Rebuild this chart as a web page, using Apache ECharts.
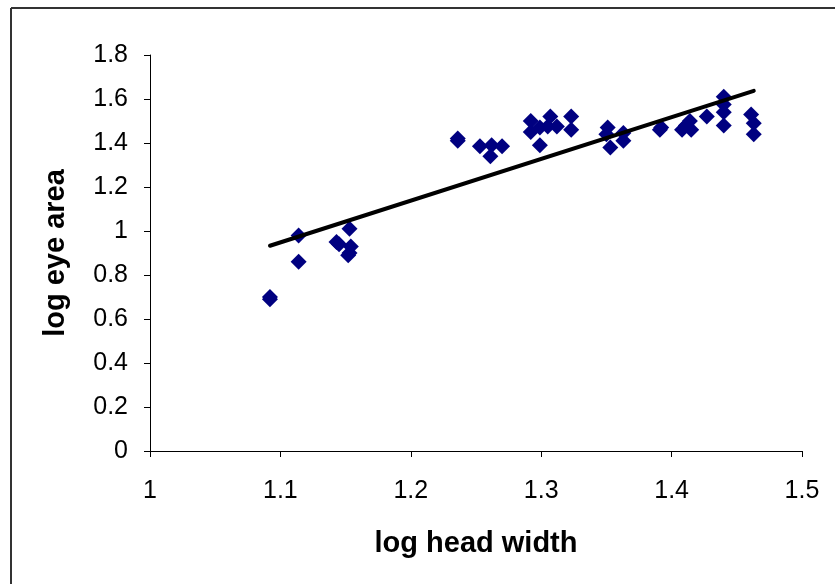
<!DOCTYPE html>
<html>
<head>
<meta charset="utf-8">
<script src="https://cdn.jsdelivr.net/npm/echarts@6/dist/echarts.min.js"></script>
<style>
  html, body { margin: 0; padding: 0; background: #fff; }
  #chart { width: 835px; height: 584px; }
</style>
</head>
<body>
<div id="chart"></div>
<script>
// log head width (x) / log eye area (y)
const headWidth = [1.092, 1.092, 1.114, 1.114, 1.143, 1.145, 1.153, 1.154, 1.153, 1.152,
  1.236, 1.236, 1.253, 1.262, 1.270, 1.261, 1.292, 1.292, 1.299, 1.307, 1.312, 1.323, 1.323, 1.299, 1.305,
  1.351, 1.350, 1.353, 1.363, 1.363, 1.391, 1.392, 1.408, 1.414, 1.415, 1.411, 1.427,
  1.440, 1.440, 1.440, 1.440, 1.461, 1.463, 1.463];
const eyeArea = [0.70, 0.69, 0.98, 0.86, 0.95, 0.94, 1.01, 0.93, 0.90, 0.89,
  1.42, 1.41, 1.385, 1.39, 1.385, 1.34, 1.50, 1.45, 1.47, 1.52, 1.475, 1.52, 1.46, 1.39, 1.475,
  1.47, 1.44, 1.38, 1.445, 1.41, 1.46, 1.47, 1.46, 1.50, 1.46, 1.48, 1.52,
  1.61, 1.575, 1.54, 1.48, 1.53, 1.49, 1.44];

// trend line end points
const trendX = [1.092, 1.463];
const trendY = [0.933, 1.637];

const font = 'Liberation Sans, Arial, sans-serif';

const chart = echarts.init(document.getElementById('chart'));

chart.setOption({
  animation: false,
  backgroundColor: '#fff',
  grid: { left: 150, right: 33, top: 55, bottom: 133 },
  graphic: [
    { type: 'line', shape: { x1: 11, y1: 8, x2: 835, y2: 8 }, style: { stroke: '#333', lineWidth: 2 } },
    { type: 'line', shape: { x1: 11, y1: 8, x2: 11, y2: 584 }, style: { stroke: '#333', lineWidth: 2 } }
  ],
  xAxis: {
    type: 'value',
    min: 1, max: 1.5, interval: 0.1,
    name: 'log head width',
    nameLocation: 'middle',
    nameGap: 78,
    nameTextStyle: { fontFamily: font, fontSize: 29, fontWeight: 'bold', color: '#000' },
    axisLine: { lineStyle: { color: '#000', width: 1 } },
    axisTick: { show: true, length: 6, inside: false, lineStyle: { color: '#000' } },
    axisLabel: { fontFamily: font, fontSize: 25, color: '#000', margin: 28 },
    splitLine: { show: false }
  },
  yAxis: {
    type: 'value',
    min: 0, max: 1.8, interval: 0.2,
    name: 'log eye area',
    nameLocation: 'middle',
    nameGap: 80,
    nameTextStyle: { fontFamily: font, fontSize: 29, fontWeight: 'bold', color: '#000' },
    axisLine: { show: true, lineStyle: { color: '#000', width: 1 } },
    axisTick: { show: true, length: 6, inside: false, lineStyle: { color: '#000' } },
    axisLabel: { fontFamily: font, fontSize: 25, color: '#000', margin: 22 },
    splitLine: { show: false }
  },
  series: [
    {
      type: 'scatter',
      symbol: 'diamond',
      symbolSize: 16,
      itemStyle: { color: '#000080', opacity: 1 },
      data: headWidth.map((x, i) => [x, eyeArea[i]]),
      z: 2
    },
    {
      type: 'line',
      data: trendX.map((x, i) => [x, trendY[i]]),
      showSymbol: false,
      lineStyle: { color: '#000', width: 4, cap: 'round' },
      z: 3
    }
  ]
});
</script>
</body>
</html>
